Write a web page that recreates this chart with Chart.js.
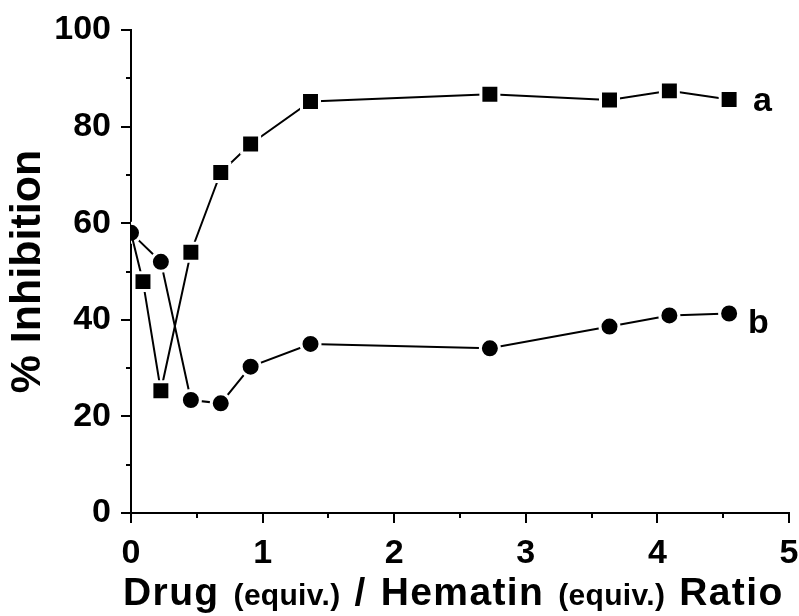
<!DOCTYPE html>
<html><head><meta charset="utf-8">
<script src="https://cdn.jsdelivr.net/npm/chart.js@4.4.0/dist/chart.umd.min.js"></script>
<style>html,body{margin:0;padding:0;background:#fff;}#wrap{width:799px;height:616px;position:relative;}</style>
</head><body><div id="wrap"><canvas id="c" width="799" height="616"></canvas></div>
<script>
// ---- data ----
const ratioA = [0, 0.091, 0.227, 0.455, 0.682, 0.909, 1.364, 2.727, 3.636, 4.091, 4.545];
const inhibitionA = [58.0, 47.9, 25.3, 54.0, 70.5, 76.4, 85.2, 86.7, 85.5, 87.4, 85.6];
const ratioB = [0, 0.227, 0.455, 0.682, 0.909, 1.364, 2.727, 3.636, 4.091, 4.545];
const inhibitionB = [58.0, 52.0, 23.4, 22.7, 30.3, 35.0, 34.1, 38.6, 40.9, 41.3];
const seriesNames = ['a', 'b'];
const xRange = [0, 5];
const xStep = 1;
const yRange = [0, 100];
const yStep = 20;
const yTitle = '% Inhibition';
const xTitleParts = [
  ['Drug', 'big'], ['(equiv.)', 'small'], ['/', 'big'], ['Hematin', 'big'], ['(equiv.)', 'small'], ['Ratio', 'big']
];

const FAM = "'Liberation Sans', Arial, Helvetica, sans-serif";

const toPts = (xs, ys) => xs.map((x, i) => ({x: x, y: ys[i]}));

const minorTicks = {
  id: 'minorTicks',
  afterDraw(chart) {
    const ctx = chart.ctx;
    const xs = chart.scales.x, ys = chart.scales.y;
    ctx.save();
    ctx.strokeStyle = '#000';
    ctx.lineWidth = 2;
    const xt = xs.ticks.map(t => t.value);
    for (let i = 0; i < xt.length - 1; i++) {
      const p = Math.round(xs.getPixelForValue((xt[i] + xt[i + 1]) / 2));
      ctx.beginPath(); ctx.moveTo(p, xs.top); ctx.lineTo(p, xs.top + 5); ctx.stroke();
    }
    const yt = ys.ticks.map(t => t.value);
    for (let i = 0; i < yt.length - 1; i++) {
      const p = Math.round(ys.getPixelForValue((yt[i] + yt[i + 1]) / 2));
      ctx.beginPath(); ctx.moveTo(ys.right, p); ctx.lineTo(ys.right - 5, p); ctx.stroke();
    }
    ctx.restore();
  }
};

const xTitle = {
  id: 'xTitle',
  afterDraw(chart) {
    const ctx = chart.ctx;
    const area = chart.chartArea;
    ctx.save();
    ctx.fillStyle = '#000';
    ctx.textBaseline = 'alphabetic';
    ctx.textAlign = 'left';
    let x = area.left - 8;
    const base = area.bottom + 92;
    const gap = 14;
    xTitleParts.forEach(([txt, kind]) => {
      if (kind === 'big') { ctx.font = 'bold 39px ' + FAM; ctx.letterSpacing = '1.4px'; }
      else { ctx.font = 'bold 30px ' + FAM; ctx.letterSpacing = '0.3px'; }
      ctx.fillText(txt, x, base);
      x += ctx.measureText(txt).width + gap;
    });
    ctx.restore();
  }
};

const seriesTags = {
  id: 'seriesTags',
  afterDatasetsDraw(chart) {
    const ctx = chart.ctx;
    const offs = [[24, 11], [19, 19]];
    ctx.save();
    ctx.fillStyle = '#000';
    ctx.font = 'bold 34px ' + FAM;
    ctx.textAlign = 'left';
    ctx.textBaseline = 'alphabetic';
    chart.data.datasets.forEach((ds, i) => {
      const meta = chart.getDatasetMeta(i);
      const last = meta.data[meta.data.length - 1];
      ctx.fillText(seriesNames[i], last.x + offs[i][0], last.y + offs[i][1]);
    });
    ctx.restore();
  }
};

new Chart(document.getElementById('c'), {
  type: 'line',
  data: {
    datasets: [
      {
        label: seriesNames[0],
        data: toPts(ratioA, inhibitionA),
        borderColor: '#000', borderWidth: 2, tension: 0,
        pointStyle: 'rect',
        pointRadius: ctx => ctx.dataIndex === 0 ? 0 : 12.7,
        pointHoverRadius: ctx => ctx.dataIndex === 0 ? 0 : 12.7,
        pointBackgroundColor: '#000', pointBorderColor: '#fff', pointBorderWidth: 3,
        clip: 0
      },
      {
        label: seriesNames[1],
        data: toPts(ratioB, inhibitionB),
        borderColor: '#000', borderWidth: 2, tension: 0,
        pointStyle: 'circle', pointRadius: 9.5, pointHoverRadius: 9.5,
        pointBackgroundColor: '#000', pointBorderColor: '#fff', pointBorderWidth: 3,
        clip: 0
      }
    ]
  },
  options: {
    responsive: false,
    animation: false,
    devicePixelRatio: 1,
    events: [],
    layout: {autoPadding: false, padding: {top: 30, right: 10, left: 0, bottom: 0}},
    plugins: {legend: {display: false}, tooltip: {enabled: false}},
    scales: {
      x: {
        type: 'linear', min: xRange[0], max: xRange[1],
        afterFit(scale) { scale.height = 103; scale.paddingRight = 0; scale.paddingLeft = 0; },
        ticks: {stepSize: xStep, color: '#000', padding: 10, font: {family: FAM, size: 34, weight: 'bold'}},
        grid: {display: true, drawOnChartArea: false, drawTicks: true, tickLength: 10, color: '#000', lineWidth: 2},
        border: {display: true, color: '#000', width: 2},
        title: {display: false}
      },
      y: {
        type: 'linear', min: yRange[0], max: yRange[1],
        afterFit(scale) { scale.width = 131; scale.paddingTop = 0; scale.paddingBottom = 0; },
        ticks: {stepSize: yStep, color: '#000', padding: 10, font: {family: FAM, size: 34, weight: 'bold'}},
        grid: {display: true, drawOnChartArea: false, drawTicks: true, tickLength: 10, color: '#000', lineWidth: 2},
        border: {display: true, color: '#000', width: 2},
        title: {display: true, text: yTitle, color: '#000', padding: {top: 2, bottom: 0}, font: {family: FAM, size: 43, weight: 'bold', lineHeight: 1.2}}
      }
    }
  },
  plugins: [minorTicks, xTitle, seriesTags]
});
</script>
</body></html>
